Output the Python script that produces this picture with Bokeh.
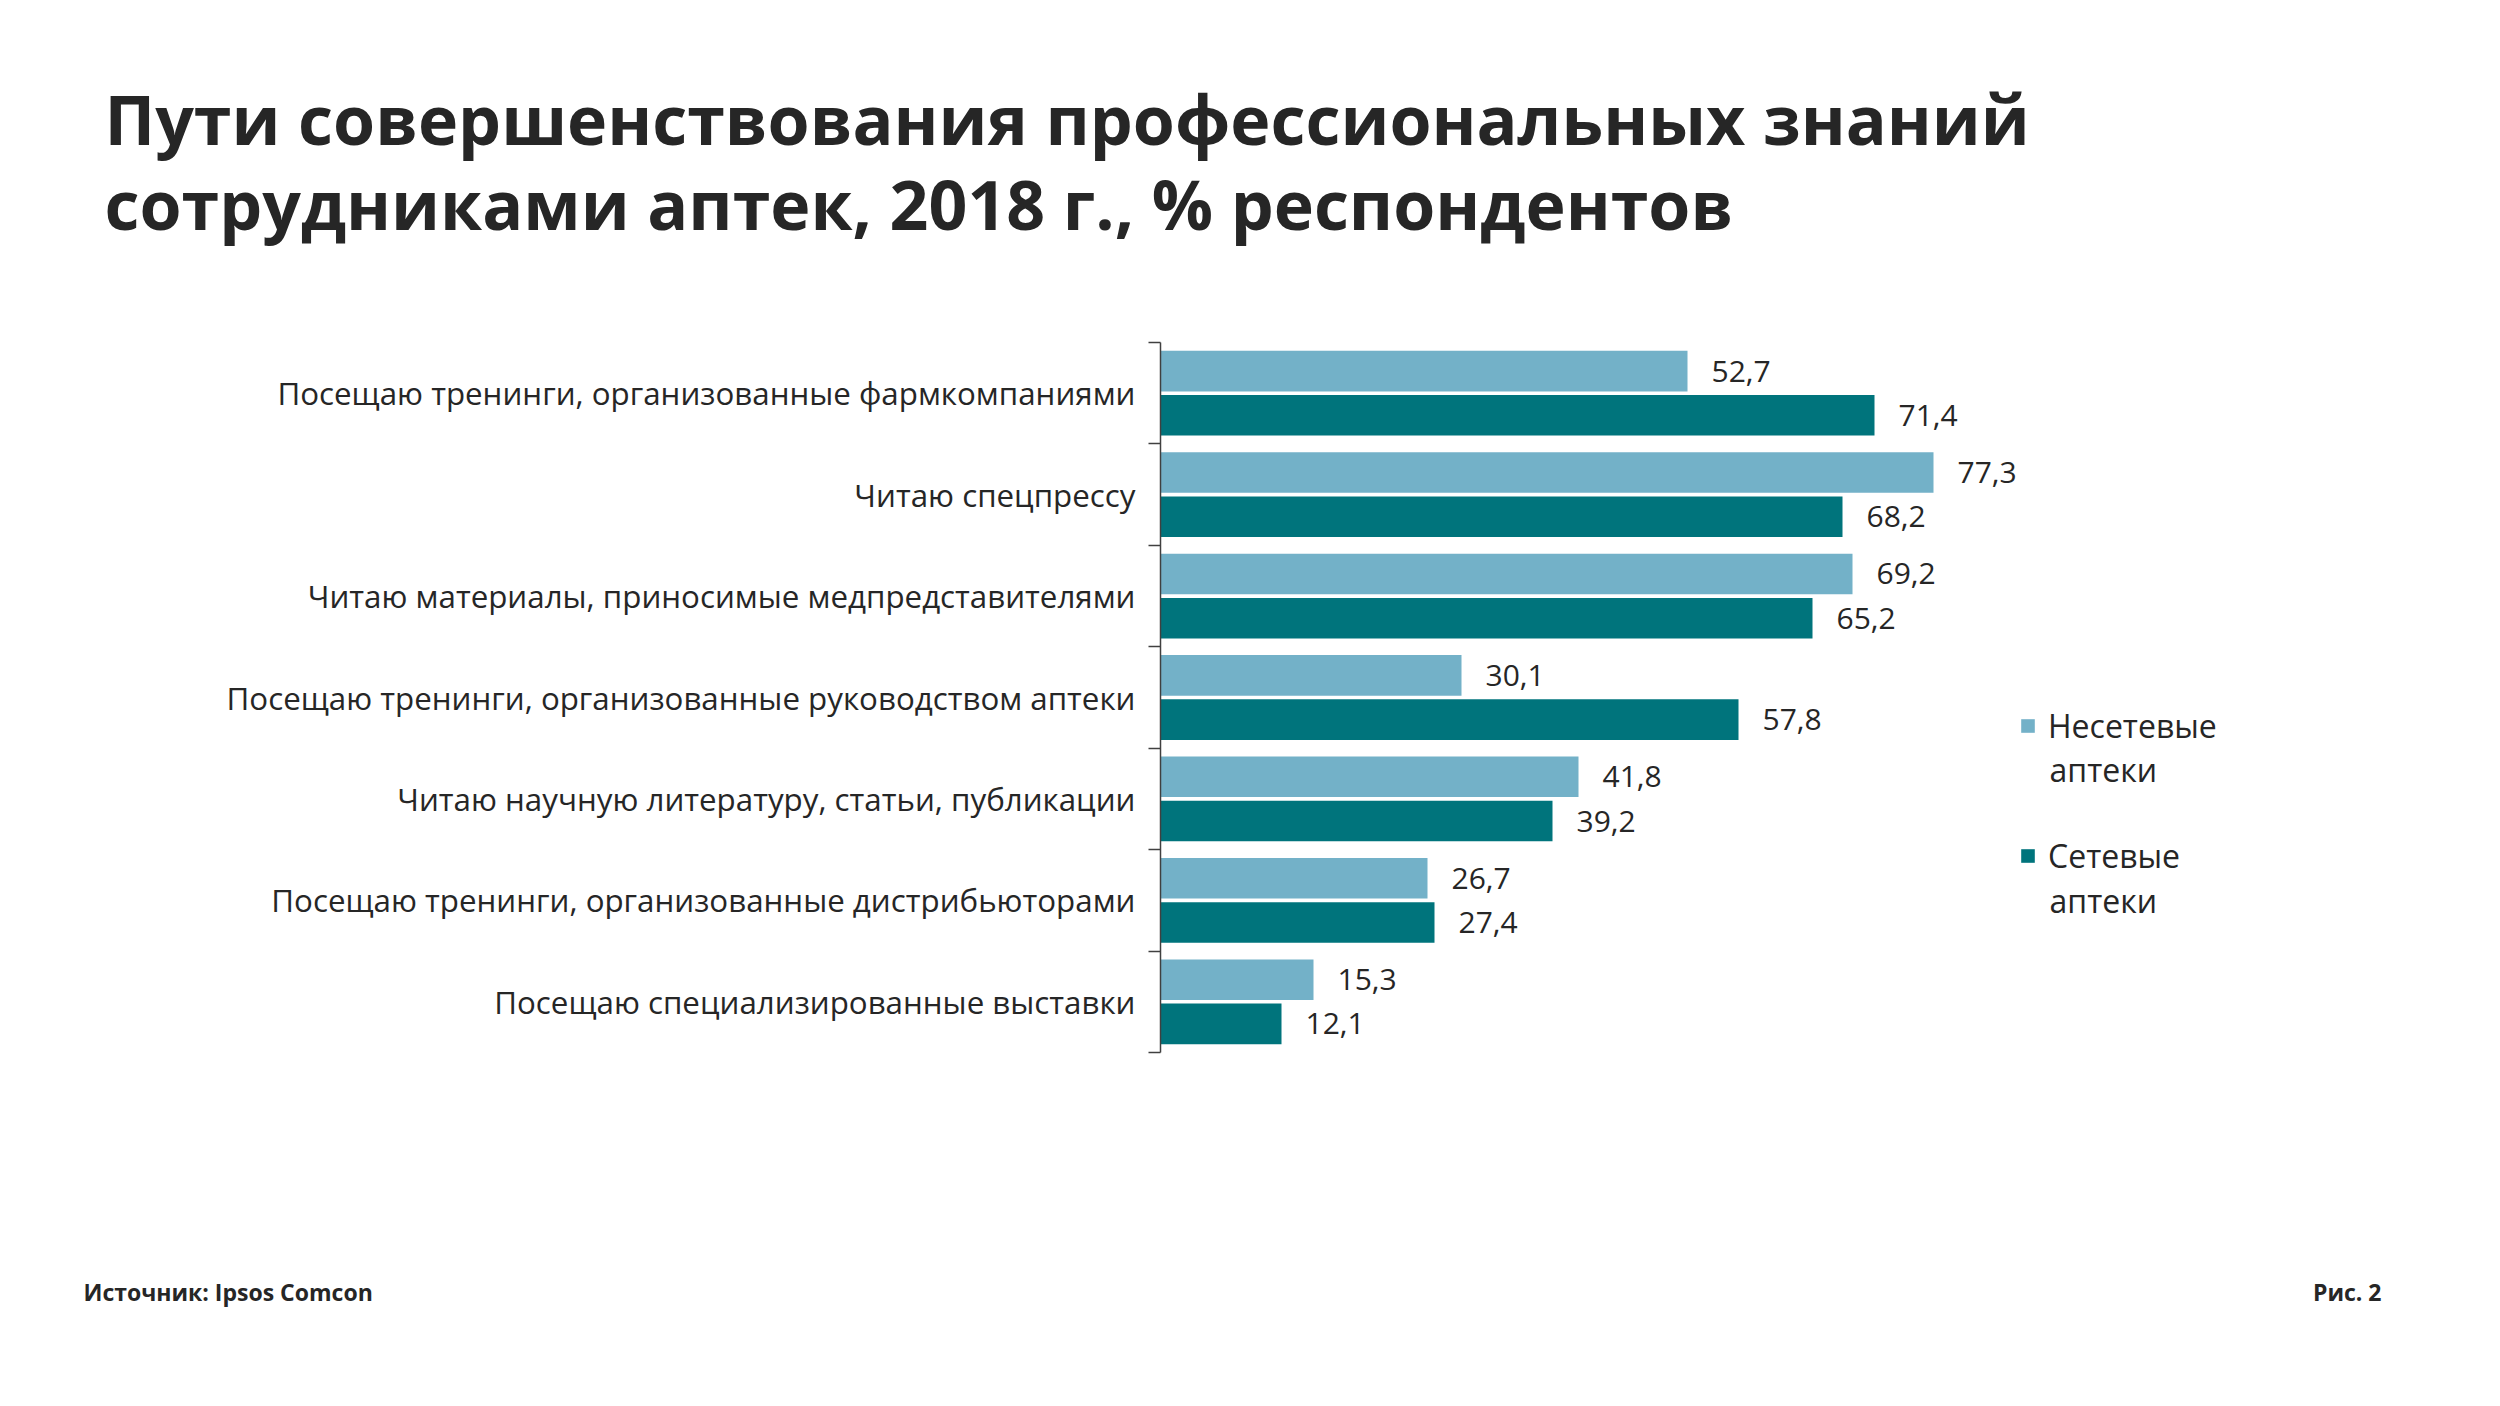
from bokeh.plotting import figure
from bokeh.layouts import column
from bokeh.models import (ColumnDataSource, Range1d, LinearAxis, FixedTicker,
                          CustomJSTickFormatter, Label, Legend, LegendItem)
from bokeh.transform import dodge
from bokeh.core.properties import value
from bokeh.embed import file_html
from bokeh.resources import INLINE

# ---------------- data ----------------
categories = [
    "Посещаю тренинги, организованные фармкомпаниями",
    "Читаю спецпрессу",
    "Читаю материалы, приносимые медпредставителями",
    "Посещаю тренинги, организованные руководством аптеки",
    "Читаю научную литературу, статьи, публикации",
    "Посещаю тренинги, организованные дистрибьюторами",
    "Посещаю специализированные выставки",
]
non_chain = [52.7, 77.3, 69.2, 30.1, 41.8, 26.7, 15.3]
chain = [71.4, 68.2, 65.2, 57.8, 39.2, 27.4, 12.1]
series_first = ["Несетевые", "Сетевые"]
series_second = ["аптеки", "аптеки"]
title_lines = ["Пути совершенствования профессиональных знаний",
               "сотрудниками аптек, 2018 г., % респондентов"]
source_text = "Источник: Ipsos Comcon"
fig_text = "Рис. 2"

# ---------------- styling / layout ----------------
LIGHT = "#73B1C8"
DARK = "#00747C"
TEXT = "#262626"
AXIS = "#404040"
FONT = "Open Sans"

W = 2484
TOP_H = 270            # title strip height
MAIN_H = 970           # main chart height
BOT_H = 150            # footer strip height
FRAME_L = 1160         # page x of value axis
FRAME_T = 342          # page y of top of category band
FRAME_B = 1052         # page y of bottom of category band
PX_PER_UNIT = 10.0
n = len(categories)
row_px = (FRAME_B - FRAME_T) / n
x_end = (W - FRAME_L) / PX_PER_UNIT


def to_x(page_x):
    return (page_x - FRAME_L) / PX_PER_UNIT


def to_y(page_y):
    return (page_y - FRAME_T) / row_px


def fmt(v):
    return f"{v:.1f}".replace(".", ",")


def no_align(f):
    try:
        f.frame_align = False
    except Exception:
        pass


def blank(height):
    f = figure(width=W, height=height, output_backend="svg", toolbar_location=None,
               x_range=Range1d(0, W), y_range=Range1d(height, 0),
               x_axis_location=None, y_axis_location=None,
               min_border=0, min_border_left=0, min_border_right=0,
               min_border_top=0, min_border_bottom=0)
    f.outline_line_color = None
    f.xgrid.visible = False
    f.ygrid.visible = False
    no_align(f)
    return f


# ---------------- title strip ----------------
top = blank(TOP_H)
top.text(x=[104, 104], y=[118.0, 202.5], text=title_lines,
         text_font=value(FONT), text_font_style="bold", text_font_size="68px",
         text_color=TEXT, text_baseline="alphabetic", text_align="left")

# ---------------- main chart ----------------
pos = [i + 0.5 for i in range(n)]
src = ColumnDataSource(dict(
    pos=pos, cat=categories,
    non_chain=non_chain, chain=chain,
    non_chain_lbl=[fmt(v) for v in non_chain],
    chain_lbl=[fmt(v) for v in chain],
))

p = figure(width=W, height=MAIN_H, output_backend="svg", toolbar_location=None,
           x_range=Range1d(0, x_end), y_range=Range1d(n, 0),
           x_axis_location=None, y_axis_location=None,
           min_border_left=FRAME_L, min_border_right=0,
           min_border_top=FRAME_T - TOP_H,
           min_border_bottom=TOP_H + MAIN_H - FRAME_B)
p.outline_line_color = None
p.xgrid.visible = False
p.ygrid.visible = False
no_align(p)

OFF = 0.218
BH = 0.40
r1 = p.hbar(y=dodge("pos", -OFF), right="non_chain", left=0, height=BH,
            source=src, fill_color=LIGHT, line_color=None)
r2 = p.hbar(y=dodge("pos", OFF), right="chain", left=0, height=BH,
            source=src, fill_color=DARK, line_color=None)

lbl_kw = dict(text_font=value(FONT), text_font_size="30px", text_color=TEXT,
              text_baseline="middle", text_align="left", x_offset=24, source=src)
p.text(x="non_chain", y=dodge("pos", -OFF), text="non_chain_lbl", **lbl_kw)
p.text(x="chain", y=dodge("pos", OFF), text="chain_lbl", **lbl_kw)

yaxis = LinearAxis(
    ticker=FixedTicker(ticks=pos, minor_ticks=[float(i) for i in range(n + 1)]),
    formatter=CustomJSTickFormatter(args=dict(labels=categories),
                                    code="return labels[Math.floor(tick)];"),
)
yaxis.axis_line_color = AXIS
yaxis.axis_line_width = 1.5
yaxis.major_tick_out = 0
yaxis.major_tick_in = 0
yaxis.minor_tick_out = 12
yaxis.minor_tick_in = 0
yaxis.minor_tick_line_color = AXIS
yaxis.minor_tick_line_width = 1.5
yaxis.major_label_standoff = 13
yaxis.major_label_text_font = FONT
yaxis.major_label_text_font_size = "31.3px"
yaxis.major_label_text_color = TEXT
p.add_layout(yaxis, "left")

# legend (first line as legend label, second line as label beneath)
legend = Legend(items=[LegendItem(label=series_first[0], renderers=[r1]),
                       LegendItem(label=series_first[1], renderers=[r2])],
                location=(2019 - FRAME_L, FRAME_B - 877))
legend.glyph_width = 17
legend.glyph_height = 17
legend.label_standoff = 12
legend.label_text_font = FONT
legend.label_text_font_size = "32px"
legend.label_text_color = TEXT
legend.spacing = 87
legend.padding = 0
legend.margin = 0
legend.border_line_color = None
legend.background_fill_alpha = 0
p.add_layout(legend, "center")

for txt, base in zip(series_second, [769.0, 899.7]):
    p.add_layout(Label(x=to_x(2049), y=to_y(base), text=txt,
                       text_font=FONT, text_font_size="32px", text_color=TEXT,
                       text_baseline="alphabetic", text_align="left"))

# ---------------- footer strip ----------------
bot = blank(BOT_H)
y0 = TOP_H + MAIN_H
bot.text(x=[83], y=[1291.0 - y0], text=[source_text],
         text_font=value(FONT), text_font_style="bold", text_font_size="23px",
         text_color=TEXT, text_baseline="alphabetic", text_align="left")
bot.text(x=[2381], y=[1291.0 - y0], text=[fig_text],
         text_font=value(FONT), text_font_style="bold", text_font_size="23px",
         text_color=TEXT, text_baseline="alphabetic", text_align="right")

layout = column(top, p, bot, spacing=0)
open("out.html", "w").write(file_html(layout, INLINE))
